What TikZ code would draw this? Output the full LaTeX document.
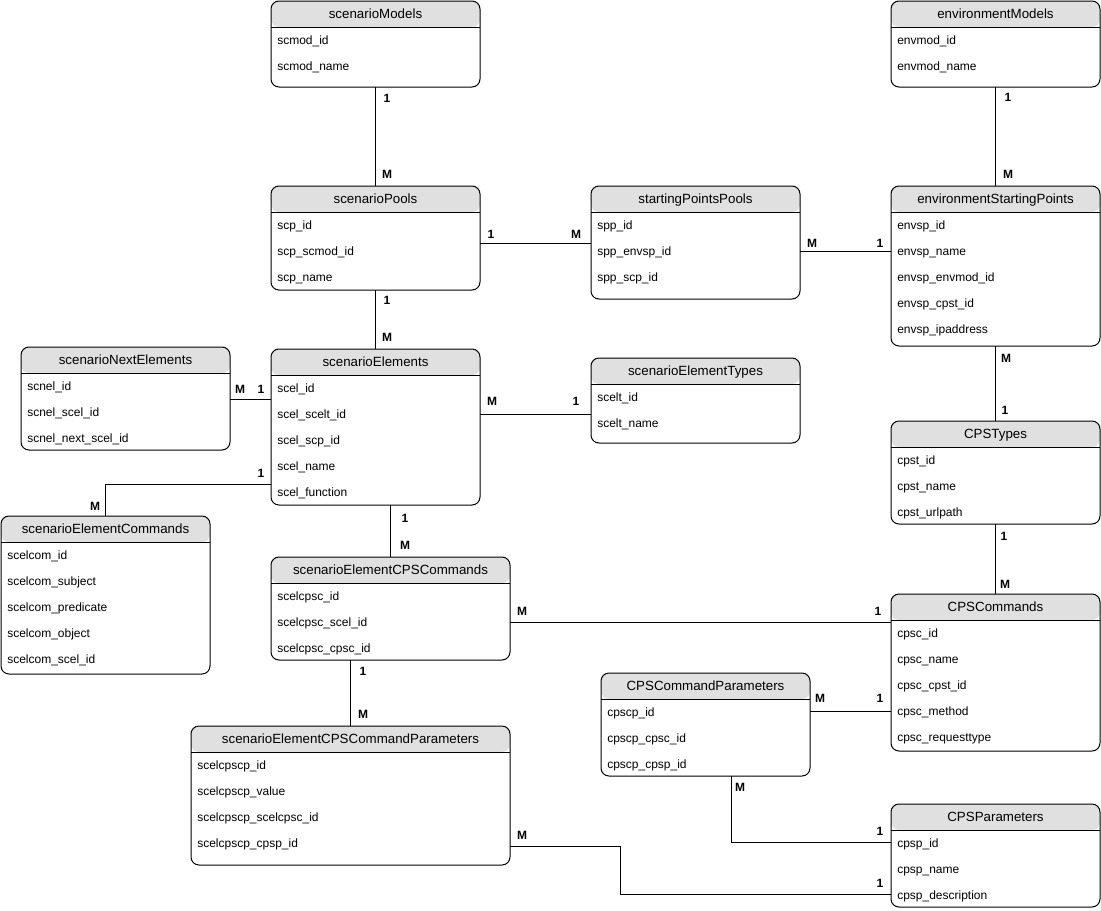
\documentclass[tikz,border=0pt]{standalone}
\usepackage{fontspec}
\setmainfont{Liberation Sans}
\usetikzlibrary{calc}
\definecolor{headgray}{HTML}{E0E0E0}
\tikzset{
  entity/.style={draw, line width=0.75pt, fill=white, rounded corners=6pt, inner sep=0pt, outer sep=0pt,
    path picture={\fill[headgray] (path picture bounding box.north west) rectangle ([yshift=-19.5pt]path picture bounding box.north east);}},
  enttitle/.style={inner sep=0pt, text height=7.2pt, text depth=2.2pt, font=\fontsize{10}{12}\selectfont},
  entfield/.style={anchor=west, inner sep=0pt, text height=6.6pt, text depth=2pt, font=\fontsize{9}{11}\selectfont},
  card/.style={inner sep=0pt, font=\fontsize{9}{11}\selectfont\bfseries},
  rel/.style={line width=0.75pt}
}
% name, x, y, width, height, title, fields
\newcommand{\entity}[7]{%
  \node[entity, minimum width=#4*0.75pt, minimum height=#5*0.75pt, anchor=north west] (#1) at (#2,#3) {};
  \draw[rel] ($(#1.north west)+(0,26)$) -- ($(#1.north east)+(0,26)$);
  \node[enttitle] (#1-t) at ($(#1.north)+(0,14.5)$) {#6};
  \foreach \f [count=\i] in {#7}
    \node[entfield] (#1-\i) at ($(#1.north west)+(6,14.5+26*\i)$) {\f};
}

\begin{document}
\begin{tikzpicture}[x=0.75pt, y=-0.75pt]
  \useasboundingbox (0,0) rectangle (1101,911);

  %%%%% TABLES %%%%%
  \entity{scmod}{271}{1}{209}{86}{scenarioModels}{scmod\_id, scmod\_name}
  \entity{envmod}{891}{1}{209}{86}{environmentModels}{envmod\_id, envmod\_name}
  \entity{scp}{271}{186}{209}{104}{scenarioPools}{scp\_id, scp\_scmod\_id, scp\_name}
  \entity{spp}{591}{186}{209}{113}{startingPointsPools}{spp\_id, spp\_envsp\_id, spp\_scp\_id}
  \entity{envsp}{891}{186}{209}{160}{environmentStartingPoints}{envsp\_id, envsp\_name, envsp\_envmod\_id, envsp\_cpst\_id, envsp\_ipaddress}
  \entity{scnel}{21}{347}{209}{103}{scenarioNextElements}{scnel\_id, scnel\_scel\_id, scnel\_next\_scel\_id}
  \entity{scel}{271}{349}{209}{156}{scenarioElements}{scel\_id, scel\_scelt\_id, scel\_scp\_id, scel\_name, scel\_function}
  \entity{scelt}{591}{358}{209}{85}{scenarioElementTypes}{scelt\_id, scelt\_name}
  \entity{cpst}{891}{421}{209}{103}{CPSTypes}{cpst\_id, cpst\_name, cpst\_urlpath}
  \entity{scelcom}{1}{516}{209}{158}{scenarioElementCommands}{scelcom\_id, scelcom\_subject, scelcom\_predicate, scelcom\_object, scelcom\_scel\_id}
  \entity{scelcpsc}{271}{557}{239}{103}{scenarioElementCPSCommands}{scelcpsc\_id, scelcpsc\_scel\_id, scelcpsc\_cpsc\_id}
  \entity{cpsc}{891}{594}{209}{157}{CPSCommands}{cpsc\_id, cpsc\_name, cpsc\_cpst\_id, cpsc\_method, cpsc\_requesttype}
  \entity{cpscp}{601}{673}{209}{103}{CPSCommandParameters}{cpscp\_id, cpscp\_cpsc\_id, cpscp\_cpsp\_id}
  \entity{scelcpscp}{191}{726}{319}{139}{scenarioElementCPSCommandParameters}{scelcpscp\_id, scelcpscp\_value, scelcpscp\_scelcpsc\_id, scelcpscp\_cpsp\_id}
  \entity{cpsp}{891}{804}{209}{103}{CPSParameters}{cpsp\_id, cpsp\_name, cpsp\_description}

  %%%%% RELATIONS %%%%%
  \draw[rel] (scmod.south) -- (scp.north);
  \draw[rel] (envmod.south) -- (envsp.north);
  \coordinate (j3) at ($(scp.north east)+(0,57)$);
  \draw[rel] (j3) -- (j3 -| spp.west);
  \coordinate (j4) at ($(spp.north east)+(0,65)$);
  \draw[rel] (j4) -- (j4 -| envsp.west);
  \draw[rel] (scp.south) -- (scel.north);
  \coordinate (j6) at ($(scel.north west)+(0,50)$);
  \draw[rel] (j6) -- (j6 -| scnel.east);
  \coordinate (j7) at ($(scel.north east)+(0,65)$);
  \draw[rel] (j7) -- (j7 -| scelt.west);
  \draw[rel] (envsp.south) -- (cpst.north);
  \coordinate (j9) at ($(scel.north west)+(0,135)$);
  \draw[rel] (j9) -| (scelcom.north);
  \draw[rel] (scelcpsc.north) -- (scelcpsc.north |- scel.south);
  \draw[rel] (cpst.south) -- (cpsc.north);
  \coordinate (j12) at ($(scelcpsc.north east)+(0,65)$);
  \draw[rel] (j12) -- (j12 -| cpsc.west);
  \draw[rel] (scelcpscp.north) -- (scelcpscp.north |- scelcpsc.south);
  \coordinate (j14) at ($(cpscp.north east)+(0,38)$);
  \draw[rel] (j14) -- (j14 -| cpsc.west);
  \coordinate (k15) at ($(cpscp.south west)+(130,0)$);
  \coordinate (j15) at ($(cpsp.north west)+(0,38)$);
  \draw[rel] (k15) |- (j15);
  \coordinate (k16) at ($(scelcpscp.north east)+(0,120)$);
  \coordinate (j16) at ($(cpsp.north west)+(0,90)$);
  \draw[rel] (k16) -- ++(110,0) |- (j16);

  %%%%% CARDINALITIES %%%%%
  \node[card] (c1a) at (387,98) {1};
  \node[card] (c1b) at (387,174) {M};
  \node[card] (c2a) at (1008,97) {1};
  \node[card] (c2b) at (1008,174) {M};
  \node[card] (c3a) at (491,234) {1};
  \node[card] (c3b) at (576,234) {M};
  \node[card] (c4a) at (812,243) {M};
  \node[card] (c4b) at (880,243) {1};
  \node[card] (c5a) at (387,300) {1};
  \node[card] (c5b) at (387,337) {M};
  \node[card] (c6a) at (240,389) {M};
  \node[card] (c6b) at (261,389) {1};
  \node[card] (c7a) at (492,401) {M};
  \node[card] (c7b) at (576,401) {1};
  \node[card] (c8a) at (1006,358) {M};
  \node[card] (c8b) at (1005,410) {1};
  \node[card] (c9a) at (261,473) {1};
  \node[card] (c9b) at (95,506) {M};
  \node[card] (c10a) at (405,518) {1};
  \node[card] (c10b) at (405,545) {M};
  \node[card] (c11a) at (1004,536) {1};
  \node[card] (c11b) at (1005,584) {M};
  \node[card] (c12a) at (522,611) {M};
  \node[card] (c12b) at (878,611) {1};
  \node[card] (c13a) at (363,671) {1};
  \node[card] (c13b) at (363,714) {M};
  \node[card] (c14a) at (820,698) {M};
  \node[card] (c14b) at (880,698) {1};
  \node[card] (c15a) at (740,787) {M};
  \node[card] (c15b) at (880,831) {1};
  \node[card] (c16a) at (522,835) {M};
  \node[card] (c16b) at (880,883) {1};
\end{tikzpicture}
\end{document}
